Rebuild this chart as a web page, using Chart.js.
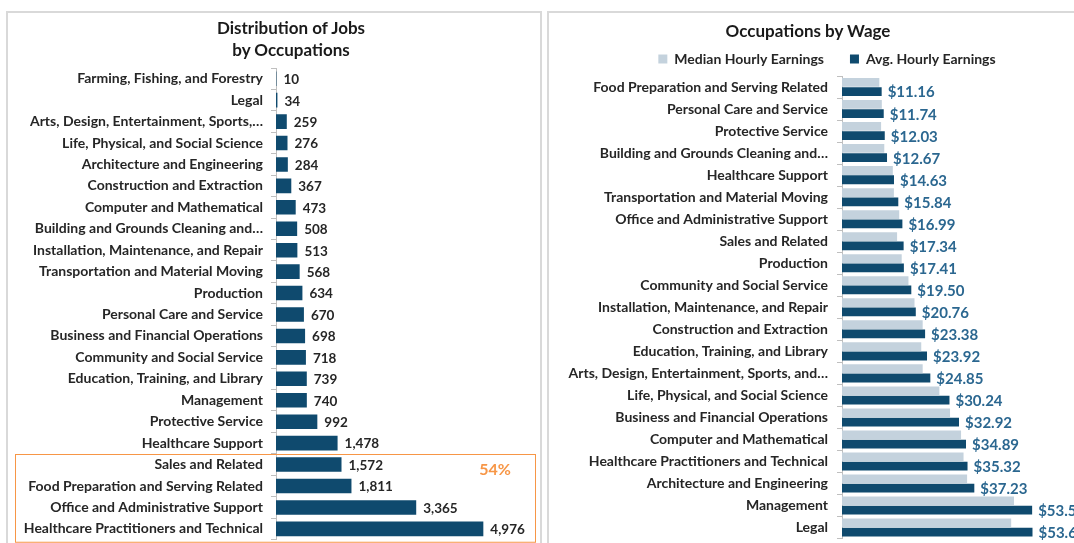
<!DOCTYPE html>
<html><head><meta charset="utf-8">
<script src="https://cdn.jsdelivr.net/npm/chart.js@4.4.1/dist/chart.umd.min.js"></script>
<style>
body{margin:0;width:1074px;height:543px;overflow:hidden;background:#fff;font-family:Lato,"Open Sans",sans-serif;position:relative}
.panel{position:absolute;border:2px solid #d9d9d9;box-sizing:border-box;background:#fff}
#p1{left:6px;top:11px;width:536px;height:560px}
#p2{left:547px;top:11px;width:580px;height:560px}
.title{position:absolute;font-weight:bold;font-size:17px;color:#1a1a1a;text-align:center;line-height:22px;white-space:nowrap}
#t1{left:191px;top:17px;width:200px}
#t2{left:708px;top:20px;width:200px}
#c1{position:absolute;left:8px;top:13px}
#c2{position:absolute;left:549px;top:13px}
</style></head>
<body>
<div class="panel" id="p1"></div>
<div class="panel" id="p2"></div>
<canvas id="c1" width="532" height="543"></canvas>
<canvas id="c2" width="556" height="543"></canvas>
<div class="title" id="t1">Distribution of Jobs<br>by Occupations</div>
<div class="title" id="t2">Occupations by Wage</div>
<script>
// ---- Left chart data ----
const jobCategories = [
  "Farming, Fishing, and Forestry","Legal","Arts, Design, Entertainment, Sports,…",
  "Life, Physical, and Social Science","Architecture and Engineering","Construction and Extraction",
  "Computer and Mathematical","Building and Grounds Cleaning and…","Installation, Maintenance, and Repair",
  "Transportation and Material Moving","Production","Personal Care and Service",
  "Business and Financial Operations","Community and Social Service","Education, Training, and Library",
  "Management","Protective Service","Healthcare Support","Sales and Related",
  "Food Preparation and Serving Related","Office and Administrative Support","Healthcare Practitioners and Technical"
];
const jobCounts = [10,34,259,276,284,367,473,508,513,568,634,670,698,718,739,740,992,1478,1572,1811,3365,4976];
const highlightShare = "54%";

// ---- Right chart data ----
const wageCategories = [
  "Food Preparation and Serving Related","Personal Care and Service","Protective Service",
  "Building and Grounds Cleaning and…","Healthcare Support","Transportation and Material Moving",
  "Office and Administrative Support","Sales and Related","Production","Community and Social Service",
  "Installation, Maintenance, and Repair","Construction and Extraction","Education, Training, and Library",
  "Arts, Design, Entertainment, Sports, and…","Life, Physical, and Social Science",
  "Business and Financial Operations","Computer and Mathematical","Healthcare Practitioners and Technical",
  "Architecture and Engineering","Management","Legal"
];
const medianHourly = [10.5,11.2,11.0,11.9,14.3,14.6,16.1,15.5,16.8,18.7,20.4,22.7,22.3,22.7,27.4,30.4,33.5,34.2,35.2,48.4,47.6];
const avgHourly = [11.16,11.74,12.03,12.67,14.63,15.84,16.99,17.34,17.41,19.50,20.76,23.38,23.92,24.85,30.24,32.92,34.89,35.32,37.23,53.5,53.6];

const FONT = 'Lato, "Open Sans", sans-serif';
const DARK = '#0f4a6e';
const LIGHT = '#c4d2dd';
const ORANGE = '#f79646';

const leftLabels = {
  id:'leftLabels',
  afterDatasetsDraw(chart){
    const ctx = chart.ctx, meta = chart.getDatasetMeta(0);
    ctx.save();
    ctx.font = 'bold 13.5px ' + FONT;
    ctx.fillStyle = '#262626';
    ctx.textBaseline = 'middle';
    ctx.textAlign = 'left';
    meta.data.forEach((bar,i)=>{
      ctx.fillText(jobCounts[i].toLocaleString('en-US'), bar.x + 7, bar.y + 1);
    });
    // highlight box around the top four categories
    const y = chart.scales.y;
    const n = jobCounts.length;
    const top = (y.getPixelForValue(n-5) + y.getPixelForValue(n-4)) / 2;
    const bottom = chart.chartArea.bottom + 2;
    ctx.strokeStyle = ORANGE;
    ctx.lineWidth = 1;
    ctx.strokeRect(7.5, Math.round(top)+0.5, 520, bottom - top);
    ctx.font = 'bold 16px ' + FONT;
    ctx.fillStyle = ORANGE;
    ctx.textAlign = 'center';
    ctx.fillText(highlightShare, 487, Math.round(top) + 16);
    ctx.restore();
  }
};

new Chart(document.getElementById('c1'), {
  type:'bar',
  data:{labels:jobCategories, datasets:[{label:'Jobs', data:jobCounts, backgroundColor:DARK,
    barPercentage:0.68, categoryPercentage:1.0}]},
  options:{
    indexAxis:'y', responsive:false, animation:false,
    layout:{padding:{top:55,right:14,bottom:4,left:0}},
    plugins:{legend:{display:false}, tooltip:{enabled:false}},
    scales:{
      x:{display:false, min:0, max:6000},
      y:{
        afterFit(s){ s.width = 268; },
        grid:{offset:true, drawOnChartArea:false, drawTicks:true, tickLength:5, color:'#bfbfbf'},
        border:{display:true, color:'#bfbfbf'},
        ticks:{font:{family:FONT, size:14, weight:'bold'}, color:'#262626', padding:8, autoSkip:false}
      }
    }
  },
  plugins:[leftLabels]
});

const rightLabels = {
  id:'rightLabels',
  afterDatasetsDraw(chart){
    const ctx = chart.ctx, meta = chart.getDatasetMeta(1);
    ctx.save();
    ctx.font = 'bold 15px ' + FONT;
    ctx.fillStyle = '#2b6790';
    ctx.textBaseline = 'middle';
    ctx.textAlign = 'left';
    meta.data.forEach((bar,i)=>{
      ctx.fillText('$' + avgHourly[i].toFixed(2), bar.x + 6, bar.y + 1);
    });
    ctx.restore();
  }
};

new Chart(document.getElementById('c2'), {
  type:'bar',
  data:{labels:wageCategories, datasets:[
    {label:'Median Hourly Earnings', data:medianHourly, backgroundColor:LIGHT, barPercentage:0.95, categoryPercentage:0.84},
    {label:'Avg. Hourly Earnings', data:avgHourly, backgroundColor:DARK, barPercentage:0.95, categoryPercentage:0.84}
  ]},
  options:{
    indexAxis:'y', responsive:false, animation:false,
    layout:{padding:{top:13,right:0,bottom:4,left:0}},
    plugins:{
      tooltip:{enabled:false},
      legend:{display:true, position:'top', maxHeight:58,
        labels:{boxWidth:9, boxHeight:9, padding:26, color:'#262626', font:{family:FONT, size:14, weight:'bold'}}}
    },
    scales:{
      x:{display:false, min:0, max:74},
      y:{
        afterFit(s){ s.width = 293; },
        grid:{offset:true, drawOnChartArea:false, drawTicks:true, tickLength:5, color:'#bfbfbf'},
        border:{display:true, color:'#bfbfbf'},
        ticks:{font:{family:FONT, size:14, weight:'bold'}, color:'#262626', padding:9, autoSkip:false}
      }
    }
  },
  plugins:[rightLabels]
});
</script>
</body></html>
